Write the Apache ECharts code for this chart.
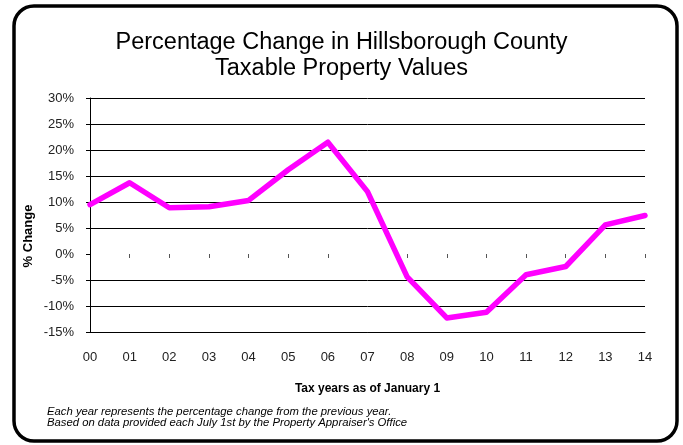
<!DOCTYPE html>
<html>
<head>
<meta charset="utf-8">
<title>Percentage Change in Hillsborough County Taxable Property Values</title>
<script src="https://cdn.jsdelivr.net/npm/echarts@6/dist/echarts.min.js"></script>
<style>
  html, body { margin: 0; padding: 0; background: #fff; }
  #chart { width: 683px; height: 445px; }
</style>
</head>
<body>
<div id="chart"></div>
<script>
// Tax years (two-digit) and the year-over-year change in taxable value, in percent
var years = ['00', '01', '02', '03', '04', '05', '06', '07', '08', '09', '10', '11', '12', '13', '14'];
var pctChange = [9.5, 13.7, 8.9, 9.1, 10.3, 16.2, 21.5, 12.0, -4.4, -12.3, -11.2, -4.0, -2.4, 5.6, 7.4];

// Value-axis range and step
var yMin = -15, yMax = 30, yStep = 5;

var titleLines = ['Percentage Change in Hillsborough County', 'Taxable Property Values'];
var xTitle = 'Tax years as of January 1';
var yTitle = '% Change';
var notes = [
  'Each year represents the percentage change from the previous year.',
  "Based on data provided each July 1st by the Property Appraiser's Office"
];

var FONT = '"Liberation Sans", Arial, sans-serif';

// Gridline colours from the bottom up; the 0% line is left blank
var gridColors = [];
for (var v = yMin; v <= yMax; v += yStep) {
  gridColors.push(v === 0 ? 'rgba(0,0,0,0)' : '#000');
}

var chart = echarts.init(document.getElementById('chart'), null, { renderer: 'canvas' });

chart.setOption({
  backgroundColor: '#fff',
  animation: false,
  title: {
    text: titleLines.join('\n'),
    left: 'center',
    top: 25,
    textStyle: { fontFamily: FONT, fontSize: 23.5, fontWeight: 'normal', color: '#000', lineHeight: 26 }
  },
  grid: { left: 90, right: 38, top: 98, bottom: 113, containLabel: false },
  xAxis: [
    {
      type: 'category',
      data: years,
      boundaryGap: false,
      position: 'bottom',
      name: xTitle,
      nameLocation: 'middle',
      nameGap: 51,
      nameTextStyle: { fontFamily: FONT, fontSize: 12, fontWeight: 'bold', color: '#000' },
      axisLine: { show: true, onZero: false, lineStyle: { color: '#000', width: 1 } },
      axisTick: { show: false },
      axisLabel: { margin: 19, fontFamily: FONT, fontSize: 13, color: '#222' },
      splitLine: { show: false }
    },
    {
      // Small category ticks along the zero level
      type: 'category',
      data: years,
      boundaryGap: false,
      position: 'bottom',
      axisLine: { show: true, onZero: true, lineStyle: { color: 'rgba(0,0,0,0)' } },
      axisTick: {
        show: true,
        length: 4,
        interval: function (i) { return i !== 0 && i !== 7; },
        lineStyle: { color: '#555', width: 1 }
      },
      axisLabel: { show: false },
      splitLine: { show: false }
    }
  ],
  yAxis: {
    type: 'value',
    min: yMin,
    max: yMax,
    interval: yStep,
    axisLine: { show: true, lineStyle: { color: '#000', width: 1 } },
    axisTick: { show: true, length: 4, lineStyle: { color: '#000' } },
    axisLabel: {
      margin: 16,
      fontFamily: FONT,
      fontSize: 13,
      color: '#222',
      formatter: '{value}%'
    },
    splitLine: { show: true, lineStyle: { color: gridColors, width: 1 } }
  },
  series: [{
    type: 'line',
    xAxisIndex: 0,
    data: pctChange,
    symbol: 'none',
    smooth: false,
    lineStyle: { color: '#ff00ff', width: 5.5, join: 'round', cap: 'round' },
    z: 3
  }],
  graphic: [
    {
      type: 'rect',
      shape: { x: 14, y: 6, width: 663, height: 435, r: 20 },
      style: { fill: 'none', stroke: '#000', lineWidth: 3.5 },
      silent: true,
      z: 0
    },
    {
      type: 'text',
      x: 28,
      y: 236,
      rotation: Math.PI / 2,
      style: {
        text: yTitle,
        fontFamily: FONT,
        fontSize: 13,
        fontWeight: 'bold',
        fill: '#000',
        align: 'center',
        verticalAlign: 'middle'
      }
    },
    {
      type: 'text',
      x: 47,
      y: 406,
      style: {
        text: notes.join('\n'),
        fontFamily: FONT,
        fontSize: 11.3,
        fontStyle: 'italic',
        fill: '#000',
        lineHeight: 11,
        align: 'left',
        verticalAlign: 'top'
      }
    }
  ]
});
</script>
</body>
</html>
